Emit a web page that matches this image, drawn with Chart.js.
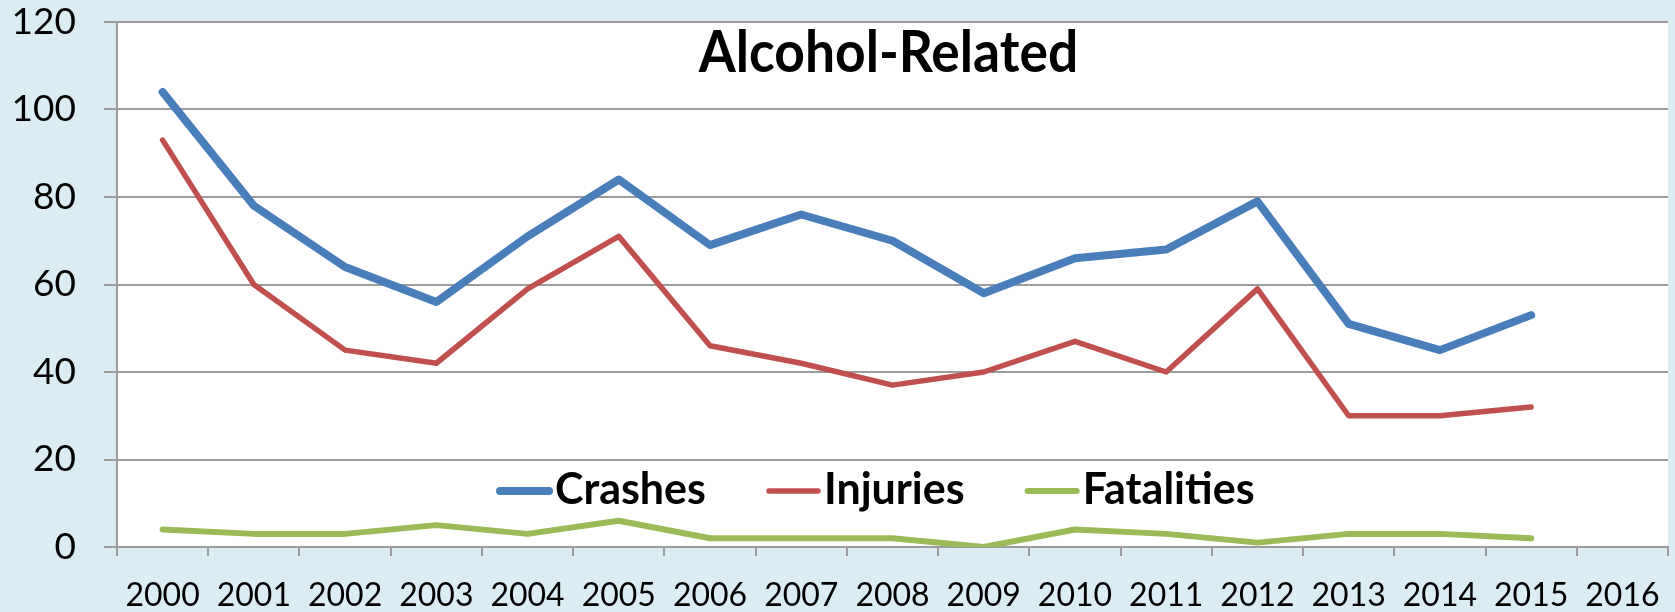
<!DOCTYPE html>
<html>
<head>
<meta charset="utf-8">
<script src="https://cdn.jsdelivr.net/npm/chart.js@4.4.0/dist/chart.umd.min.js"></script>
<style>
html,body{margin:0;padding:0;background:#dbedf3;}
#wrap{position:relative;width:1675px;height:612px;}
</style>
</head>
<body>
<div id="wrap"><canvas id="alcoholChart"></canvas></div>
<script>
// 연도 / 시리즈 값
var years = ['2000','2001','2002','2003','2004','2005','2006','2007','2008','2009','2010','2011','2012','2013','2014','2015','2016'];
var crashes    = [104, 78, 64, 56, 71, 84, 69, 76, 70, 58, 66, 68, 79, 51, 45, 53];
var injuries   = [ 93, 60, 45, 42, 59, 71, 46, 42, 37, 40, 47, 40, 59, 30, 30, 32];
var fatalities = [  4,  3,  3,  5,  3,  6,  2,  2,  2,  0,  4,  3,  1,  3,  3,  2];
var yTicks = [0, 20, 40, 60, 80, 100, 120];
var chartTitle = 'Alcohol-Related';

var gridColor = '#9c9c9c';

//흰색 plot 배경 + 안쪽 제목/범례 그리기
var insidePlugin = {
	id: 'insideDecor',
	beforeDraw: function(chart){
		var a = chart.chartArea, ctx = chart.ctx;
		ctx.save();
		ctx.fillStyle = '#ffffff';
		ctx.fillRect(a.left, a.top, a.right - a.left, a.bottom - a.top);
		ctx.restore();
	},
	afterDraw: function(chart){
		var a = chart.chartArea, ctx = chart.ctx;
		// 제목
		ctx.save();
		ctx.fillStyle = '#000';
		ctx.font = 'bold 58px Lato';
		ctx.textAlign = 'center';
		ctx.textBaseline = 'alphabetic';
		ctx.translate((a.left + a.right) / 2 - 4, a.top + 50);
		ctx.scale(0.92, 1);
		ctx.fillText(chartTitle, 0, 0);
		ctx.restore();
		// 범례
		var x = a.left + 380, y = a.bottom - 56;
		ctx.save();
		ctx.font = 'bold 43px Lato';
		ctx.textBaseline = 'middle';
		chart.data.datasets.forEach(function(ds){
			ctx.strokeStyle = ds.borderColor;
			ctx.lineWidth = ds.borderWidth;
			ctx.lineCap = 'round';
			ctx.beginPath();
			ctx.moveTo(x + 3, y);
			ctx.lineTo(x + 52, y);
			ctx.stroke();
			x += 58;
			ctx.fillStyle = '#000';
			ctx.fillText(ds.label, x, y - 1);
			x += ctx.measureText(ds.label).width + 60;
		});
		ctx.restore();
	}
};

function makeLine(label, data, color, width){
	return {
		label: label,
		data: data,
		borderColor: color,
		backgroundColor: color,
		borderWidth: width,
		pointRadius: 0,
		tension: 0,
		borderCapStyle: 'round',
		borderJoinStyle: 'round',
		fill: false
	};
}

var alcoholChart = new Chart(document.getElementById('alcoholChart'), {
	type: 'line',
	data: {
		labels: years,
		datasets: [
			makeLine('Crashes', crashes, '#4a7ebb', 8),
			makeLine('Injuries', injuries, '#c0504d', 5.5),
			makeLine('Fatalities', fatalities, '#9bbb59', 6)
		]
	},
	options: {
		responsive: true,
		maintainAspectRatio: false,
		animation: false,
		layout: { padding: { left: 0, right: 7, top: 22, bottom: 0 } },
		plugins: {
			legend: { display: false },
			title: { display: false },
			tooltip: { enabled: false }
		},
		scales: {
			x: {
				offset: true,
				afterFit: function(axis){ axis.height = 65; axis.paddingLeft = 0; axis.paddingRight = 0; },
				grid: { offset: true, drawOnChartArea: false, drawTicks: true, tickLength: 9, color: gridColor, lineWidth: 2 },
				border: { color: gridColor, width: 2 },
				ticks: { color: '#000', font: { family: 'Lato', size: 32 }, padding: 20, maxRotation: 0, autoSkip: false }
			},
			y: {
				min: 0,
				max: 120,
				afterFit: function(axis){ axis.width = 117; axis.paddingTop = 0; axis.paddingBottom = 0; },
				afterBuildTicks: function(axis){ axis.ticks = yTicks.map(function(v){ return { value: v }; }); },
				grid: { color: gridColor, lineWidth: 2, tickLength: 13 },
				border: { color: gridColor, width: 2 },
				ticks: { color: '#000', font: { family: 'Lato', size: 37 }, padding: 28 }
			}
		}
	},
	plugins: [insidePlugin]
});
</script>
</body>
</html>
